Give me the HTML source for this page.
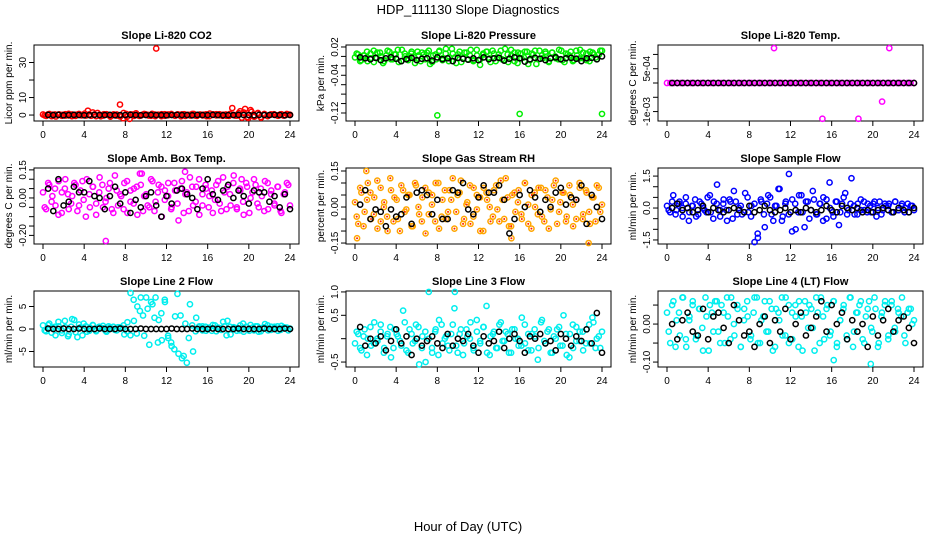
<!DOCTYPE html>
<html><head><meta charset="utf-8"><style>
body{margin:0;background:#fff}
svg{display:block;font-family:"Liberation Sans",sans-serif}
</style></head><body>
<svg id="chart" width="936" height="540" viewBox="0 0 936 540" xmlns="http://www.w3.org/2000/svg">
<rect width="936" height="540" fill="#fff"/>
<text x="468" y="14" font-size="13" text-anchor="middle">HDP_111130  Slope Diagnostics</text>
<text x="468" y="531" font-size="13" text-anchor="middle">Hour of Day (UTC)</text>
</svg>
<script>
const titles=["Slope Li-820 CO2","Slope Li-820 Pressure","Slope Li-820 Temp.","Slope Amb. Box Temp.","Slope Gas Stream RH","Slope Sample Flow","Slope Line 2 Flow","Slope Line 3 Flow","Slope Line 4 (LT) Flow"];
const yTitles=["Licor ppm per min.","kPa per min.","degrees C per min.","degrees C per min.","percent per min.","ml/min per min.","ml/min per min.","ml/min per min.","ml/min per min."];
const xTicks=[0,4,8,12,16,20,24];
const yDomains=[[-3.4,40],[-0.137,0.0242],[-0.00133,0.00133],[-0.246,0.16],[-0.154,0.1625],[-1.69,1.88],[-8.44,8.44],[-0.606,1.02],[-0.113,0.087]];
const yTicks=[[0,10,20,30],[0.02,0,-0.02,-0.04,-0.06,-0.08,-0.10,-0.12],[0.001,0.0005,0,-0.0005,-0.001],[0.15,0.10,0.05,0,-0.05,-0.10,-0.15,-0.20],[0.15,0.10,0.05,0,-0.05,-0.10,-0.15],[1.5,1.0,0.5,0,-0.5,-1.0,-1.5],[5,0,-5],[1.0,0.5,0,-0.5],[0.05,0,-0.05,-0.10]];
const yTickLabels=[["0","10","","30"],["0.02","","","-0.04","","","","-0.12"],["","5e-04","","","-1e-03"],["0.15","","","0.00","","","","-0.20"],["0.15","","","0.00","","","-0.15"],["1.5","","","0.0","","","-1.5"],["5","0","-5"],["1.0","0.5","","-0.5"],["","0.00","","-0.10"]];
const colors=["#ff0000","#00ee00","#ff00ff","#ff00ff","#ffa500","#0000ff","#00eeee","#00eeee","#00eeee"];

const cloud1=[0.3,-0.5,0.6,0.2,-0.8,0.4,0.1,-0.3,0.7,-0.6,0.2,0.5,-0.2,0.8,2.5,-0.4,0.3,1.2,-0.7,0.5,0.2,-0.9,0.4,-0.3,6,-1.8,0.6,-2.2,0.3,1.0,-0.5,0.2,0.4,-0.3,0.7,-0.6,0.2,0.5,-0.4,0.3,0.6,-0.2,0.4,-0.7,0.5,0.1,-0.3,0.6,-0.5,0.3,0.2,-0.6,0.8,0.4,-0.2,0.5,-0.4,0.3,-0.5,4,-0.3,1.1,-1.5,3.5,-1.6,1.8,-0.8,1.2,-1.5,0.6,-0.4,0.3,0.5,-0.2,0.4,-0.3,0.6,0.2];
const cloud2=[-0.002,0.004,-0.008,0.002,-0.010,0.006,0.012,-0.004,0.008,-0.014,0.002,0.010,-0.006,0.004,-0.012,0.014,0.000,-0.008,0.006,-0.002,0.010,-0.010,0.004,0.008,-0.016,0.002,-0.006,0.012,-0.004,0.006,-0.010,0.016,-0.002,0.004,-0.012,0.008,-0.006,0.014,-0.008,0.002,-0.018,0.006,0.010,-0.004,0.012,-0.010,0.004,-0.006,0.016,-0.012,0.002,0.008,-0.014,0.006,-0.002,0.010,-0.008,0.004,-0.016,0.012,-0.004,0.006,-0.010,0.008,0.000,-0.006,0.012,-0.012,0.004,0.010,-0.008,0.002,0.014,-0.004,0.006,-0.010,0.008,-0.002,0.004,0.012];
const cloud3=[0,0,0,0,0,0,0,0,0,0,0,0,0,0,0,0,0,0,0,0,0,0,0,0,0,0,0,0,0,0,0,0,0,0,0,0,0,0,0,0,0,0,0,0,0,0,0,0,0,0,0,0,0,0,0,0,0,0,0,0,0,0,0,0,0,0,0,0,0,0,0,0,0,0];
const cloud4=[0.03,-0.06,0.07,0.01,-0.04,0.09,-0.08,0.05,0.02,-0.03,0.08,-0.07,0.04,-0.01,0.10,-0.05,0.06,-0.09,0.03,0.07,-0.02,0.05,-0.06,0.12,-0.04,0.01,0.08,-0.08,0.04,-0.03,0.06,0.13,-0.07,0.02,-0.05,0.09,-0.02,0.07,-0.10,0.04,0.01,-0.06,0.08,-0.03,0.05,-0.08,0.03,0.11,-0.04,0.06,-0.09,0.02,0.07,-0.05,0.04,-0.01,0.09,-0.07,0.03,0.06,-0.04,0.12,-0.06,0.05,-0.02,0.08,-0.08,0.03,0.07,-0.05,0.01,0.09,-0.06,0.04,-0.03,0.06,-0.07,0.02,0.08,-0.04];
const cloud5=[0.02,-0.07,0.06,-0.02,0.10,-0.05,0.04,-0.09,0.08,0.00,-0.04,0.12,-0.06,0.03,-0.10,0.07,-0.01,0.05,-0.08,0.09,-0.03,0.04,-0.11,0.06,0.01,-0.06,0.10,-0.04,0.07,-0.02,0.03,-0.09,0.05,0.11,-0.05,0.02,-0.07,0.08,-0.01,0.04,-0.10,0.06,0.00,-0.04,0.09,-0.06,0.03,0.12,-0.08,0.05,-0.02,0.07,-0.05,0.10,0.01,-0.09,0.06,-0.03,0.08,-0.06,0.04,-0.01,0.09,-0.07,0.02,0.06,-0.04,0.05,-0.08,0.03,0.10,-0.05,0.07,-0.02,0.04,-0.06,0.08,0.01];
const cloud6=[0.1,-0.2,0.6,-0.1,0.3,-0.4,0.2,-0.6,0.1,0.4,-0.3,0.2,-0.1,0.5,-0.2,0.3,1.1,-0.4,0.2,-0.1,0.4,-0.5,0.3,0.0,-0.3,0.7,-0.2,0.1,-1.6,-1.2,0.4,-0.3,0.2,0.5,-0.6,0.1,0.9,-0.4,0.3,1.6,-1.1,0.2,-0.2,0.6,-0.9,0.3,-0.1,0.4,-0.3,0.2,0.5,-0.5,1.2,-0.2,0.3,-0.8,0.2,0.7,-0.1,1.4,-0.3,0.2,-0.1,0.3,-0.2,0.1,0.2,-0.4,0.3,-0.1,0.1,0.2,-0.2,0.3,-0.1,0.1,-0.2,0.2,0.1,-0.1];
const cloud7=[0.8,-0.5,1.2,0.3,-1.4,0.6,-0.3,1.8,-1.6,0.5,2.0,-1.8,0.4,1.2,-0.6,0.3,0.8,-0.3,0.5,0.2,-0.4,0.6,0.1,-0.2,0.4,0.3,-1.2,1.5,8,6.5,-1,4,3,7,-3.5,5.5,7,2,-2.5,6,-1.5,-3,-4.5,7.8,3,-6,-7.5,5.5,-5,2.5,0.6,-0.3,0.5,0.2,-0.4,0.8,0.3,-0.2,0.6,1.8,-1.2,0.4,0.2,-0.3,1.2,0.5,-0.4,0.3,0.6,-0.6,0.2,1.1,-0.3,0.5,0.2,0.6,-0.2,0.4,0.3,0.1];
const cloud8=[-0.1,0.1,-0.25,0.2,0.0,-0.15,0.35,-0.05,0.15,-0.3,0.05,0.25,-0.2,0.1,-0.05,0.6,-0.25,0.2,-0.1,0.3,-0.55,0.05,-0.5,1.0,-0.2,0.15,-0.35,0.3,0.0,-0.15,0.1,0.65,-0.3,0.2,-0.1,0.05,0.35,-0.25,0.15,-0.05,0.25,0.7,-0.35,0.1,-0.2,0.3,-0.05,0.15,-0.3,0.2,0.0,-0.15,0.45,-0.1,0.1,-0.25,0.2,-0.45,0.35,-0.05,0.15,-0.3,0.05,0.2,-0.15,0.5,-0.35,0.1,-0.2,0.25,-0.05,0.15,-0.1,0.3,0.45,-0.2,0.05,0.15];
const cloud9=[0.03,-0.05,0.06,0.01,-0.03,0.07,-0.06,0.02,0.05,-0.04,0.04,-0.01,0.07,-0.07,0.03,0.06,-0.02,0.05,-0.05,0.02,0.07,-0.03,0.04,-0.06,0.01,0.06,-0.04,0.03,0.07,-0.05,0.02,-0.02,0.06,-0.07,0.04,0.01,-0.03,0.07,-0.05,0.03,0.05,-0.06,0.02,0.06,-0.01,0.04,-0.07,0.03,0.07,-0.04,0.05,-0.02,0.06,-0.05,0.01,0.04,-0.03,0.07,-0.06,0.03,0.05,-0.04,0.02,0.06,-0.02,0.04,-0.05,0.03,0.06,-0.03,0.05,-0.01,0.04,0.02,-0.03,0.03,0.04,0.01];
const clouds=[cloud1,cloud2,cloud3,cloud4,cloud5,cloud6,cloud7,cloud8,cloud9];

// second interleaved set of colored samples (denser clouds)
const cloudB1=[-0.2,0.4,-0.6,0.3,0.1,-0.4,0.5,-0.2,0.3,-0.5,0.6,0.1,-0.3,0.4,1.5,-0.6,0.2,-0.3,0.5,-0.4,0.1,0.3,-0.8,1.2,-1.0,0.4,-0.5,0.2,-0.3,0.6,0.1,-0.4,0.3,0.2,-0.6,0.5,-0.1,0.3,-0.4,0.2,0.4,-0.5,0.1,0.6,-0.3,0.2,-0.2,0.4,-0.6,0.3,0.5,-0.1,0.2,-0.4,0.6,0.1,-0.3,2.2,1.5,-1.2,2.8,-0.9,0.8,-1.1,0.5,-0.6,0.3,0.2,-0.4,0.5,-0.2,0.3];
const cloudB2=[0.006,-0.010,0.002,0.010,-0.004,-0.012,0.008,0.000,-0.010,0.012,-0.006,0.004,0.014,-0.010,0.006,-0.004,0.010,-0.014,0.002,0.008,-0.006,0.012,-0.012,0.004,0.010,-0.008,0.016,-0.002,0.006,-0.014,0.010,-0.004,0.008,0.002,-0.010,0.014,-0.006,0.004,0.010,-0.012,0.006,-0.002,0.012,-0.008,0.004,0.014,-0.010,0.008,-0.004,0.010,-0.016,0.006,0.012,-0.006,0.002,0.010,-0.012,0.008,-0.004,0.014,-0.008,0.006,0.002,-0.010,0.012,-0.004,0.008,-0.008,0.010,0.004,-0.006,0.012];
const cloudB3=[];
const cloudB4=[-0.05,0.08,-0.02,0.05,-0.09,0.03,0.10,-0.06,0.01,0.07,-0.04,0.09,-0.10,0.02,0.06,-0.03,0.11,-0.05,0.00,0.08,-0.08,0.04,0.02,-0.06,0.09,-0.02,0.05,-0.09,0.07,0.01,-0.04,0.10,-0.07,0.03,0.06,-0.01,0.08,-0.05,0.04,-0.12,0.09,0.02,-0.07,0.06,-0.02,0.10,-0.04,0.05,0.01,-0.08,0.07,-0.03,0.11,-0.06,0.02,0.08,-0.05,0.04,-0.09,0.06,0.00,0.10,-0.03,0.05,-0.07,0.08,0.02,-0.04,0.06,-0.08,0.03,0.07];
const cloudB5=[-0.04,0.08,-0.08,0.03,0.06,-0.03,0.11,-0.06,0.02,-0.10,0.07,0.04,-0.05,0.09,-0.02,0.05,-0.08,0.10,0.00,-0.06,0.08,-0.03,0.05,0.10,-0.09,0.03,-0.05,0.07,0.12,-0.02,0.06,-0.07,0.01,0.09,-0.04,0.05,-0.10,0.08,0.03,-0.06,0.07,-0.01,0.11,-0.05,0.04,-0.08,0.06,0.02,-0.03,0.10,-0.07,0.05,0.00,0.08,-0.04,0.07,-0.09,0.03,0.11,-0.02,0.06,-0.06,0.09,0.01,-0.05,0.08,-0.03,0.06,-0.07,0.04,0.09,-0.02];
const cloudB6=[-0.1,0.3,-0.3,0.2,0.0,0.5,-0.2,0.1,-0.4,0.3,0.0,-0.2,0.6,-0.5,0.2,-0.1,0.4,-0.6,0.3,0.8,-0.3,0.1,-0.2,0.5,-0.4,0.2,-1.4,0.3,-0.9,0.6,-0.3,0.1,0.9,-0.6,0.2,-0.3,0.4,-1.0,0.6,-0.2,0.3,-0.5,0.8,-0.3,0.2,-0.6,0.4,0.0,-0.4,0.3,-0.2,0.5,-0.3,0.2,0.1,-0.3,0.4,-0.1,0.2,-0.2,0.3,0.0,-0.3,0.2,0.1,-0.2,0.3,-0.1,0.2,0.0,-0.2,0.1];
const cloudB7=[-0.3,0.9,-0.8,0.5,1.6,-0.9,0.4,-1.2,2.2,-0.7,1.0,-1.4,0.6,-0.4,0.9,-0.5,0.4,0.7,-0.6,0.3,0.5,-0.3,0.4,0.8,-0.5,-1.4,1.8,5,7,-1.5,4.5,6,2.5,-3,3.5,6.5,-2,-3.8,2.8,-5.5,-6.5,1.2,-2,0.8,-0.5,0.4,0.6,-0.4,0.3,0.9,-0.5,0.2,1.6,-1.4,0.5,0.3,-0.4,0.8,-0.6,0.4,0.9,-0.3,0.6,-0.5,0.4,0.8,-0.2,0.5,-0.4,0.7,0.3,-0.3];
const cloudB8=[0.15,-0.2,0.05,-0.35,0.25,-0.1,0.0,0.3,-0.2,0.1,-0.4,0.2,0.05,-0.15,0.35,-0.3,0.1,-0.05,0.25,-0.2,0.15,0.0,-0.3,0.2,0.4,-0.1,0.05,-0.25,0.3,-0.15,0.1,-0.35,0.2,0.0,-0.2,0.4,-0.1,0.25,-0.3,0.05,0.15,-0.2,0.35,-0.05,0.1,-0.3,0.2,0.0,-0.15,0.3,-0.25,0.1,0.05,-0.2,0.4,-0.1,0.2,-0.3,0.0,0.25,-0.15,0.1,-0.4,0.3,-0.05,0.15,-0.25,0.2,-0.1,0.35,0.0,-0.2];
const cloudB9=[-0.02,0.05,-0.06,0.03,0.07,-0.04,0.01,0.06,-0.03,0.04,-0.07,0.02,0.05,-0.02,0.06,-0.05,0.03,0.07,-0.04,0.00,0.05,-0.06,0.04,0.02,-0.03,0.07,-0.05,0.01,0.06,-0.02,0.04,-0.06,0.03,0.07,-0.03,0.05,-0.04,0.02,0.06,-0.07,0.03,0.05,-0.01,0.07,-0.05,0.02,0.04,-0.03,0.06,-0.06,0.01,0.05,-0.04,0.07,-0.02,0.03,0.06,-0.05,0.04,-0.01,0.07,-0.06,0.02,0.05,-0.04,0.06,-0.02,0.03,0.07,-0.05,0.04,0.00];
const cloudsB=[cloudB1,cloudB2,cloudB3,cloudB4,cloudB5,cloudB6,cloudB7,cloudB8,cloudB9];

const black1=[0.1,0,0.1,-0.1,0,0.1,0,-0.1,0,0.1,0,0,0.1,-0.1,0,0,0.1,0,-0.1,0,0.1,0,0,-0.1,0,0.1,0,0,-0.1,0.1,0,0,0.1,0,-0.1,0,0,0.1,0,0,-0.1,0.1,0,0,0.1,0,-0.1,0];
const black2=[-0.002,-0.004,-0.006,-0.003,-0.008,-0.004,-0.002,-0.005,-0.010,-0.006,-0.003,-0.008,-0.005,-0.004,-0.009,-0.002,-0.006,-0.004,-0.010,-0.003,-0.005,-0.007,-0.004,-0.008,-0.002,-0.006,-0.004,-0.003,-0.009,-0.005,-0.002,-0.004,-0.011,-0.006,-0.003,-0.005,-0.008,-0.004,-0.002,-0.006,-0.004,-0.003,-0.005,-0.010,-0.004,-0.003,-0.006,0.000];
const black3=[0,0,0,0,0,0,0,0,0,0,0,0,0,0,0,0,0,0,0,0,0,0,0,0,0,0,0,0,0,0,0,0,0,0,0,0,0,0,0,0,0,0,0,0,0,0,0,0];
const black4=[0.05,-0.07,0.10,-0.04,-0.02,0.06,0.03,0.03,0.09,0.01,0.00,-0.06,0.01,0.06,-0.03,0.03,-0.08,-0.01,-0.05,0.01,0.03,-0.04,-0.10,0.01,-0.03,0.04,0.05,0.02,0.00,-0.06,0.05,0.10,0.02,-0.01,0.04,0.07,0.00,0.04,0.01,-0.03,0.04,0.03,0.03,-0.02,0.01,-0.05,0.02,-0.06];
const black5=[0.01,0.07,-0.05,-0.01,-0.02,-0.08,-0.01,-0.04,-0.03,0.04,-0.07,0.06,0.07,0.05,-0.03,0.03,-0.05,-0.05,0.07,0.06,0.10,-0.01,-0.03,0.04,0.09,0.06,0.06,0.09,0.03,-0.11,-0.05,0.05,0.00,0.07,0.04,-0.02,0.03,0.00,0.06,0.08,0.01,0.04,0.03,0.09,-0.07,0.05,0.00,-0.05];
const black6=[0.0,0.2,-0.1,0.0,-0.2,-0.1,0.1,-0.2,0.0,-0.1,-0.2,-0.1,0.0,-0.1,-0.2,0.1,-0.2,-0.1,0.1,-0.1,-0.2,-0.1,0.0,-0.2,-0.1,-0.2,0.0,-0.1,-0.2,-0.1,0.1,-0.1,-0.2,0.1,0.0,-0.1,0.0,-0.2,-0.1,-0.2,-0.1,0.0,-0.1,-0.2,0.0,-0.1,-0.2,0.0];
const black7=[0.1,0,0,0.1,0,0,0.1,0,0,0,0.1,0,0,0,0.1,0,0,0,0.1,0,0,0,0,0,0.1,0,0,0,0.1,0,0,0,0.1,0,0,0,0,0.1,0,0,0,0,0.1,0,0,0,0.1,0];
const black8=[0.25,-0.15,0.0,-0.1,0.05,-0.25,-0.05,0.2,-0.1,0.05,-0.35,0.0,-0.15,-0.05,0.05,-0.1,-0.2,0.1,-0.15,0.0,-0.05,0.1,-0.15,-0.3,0.05,-0.1,-0.05,0.15,-0.2,0.0,0.1,-0.05,-0.3,0.05,0.0,0.1,-0.1,-0.05,-0.25,0.1,0.0,-0.15,0.05,-0.05,0.2,-0.1,0.55,-0.3];
const black9=[0.00,-0.04,0.01,0.03,-0.02,-0.03,0.04,-0.04,0.02,0.03,-0.01,-0.05,0.05,0.01,-0.03,-0.02,-0.06,0.00,0.02,-0.05,0.01,-0.02,0.04,-0.04,0.00,0.03,-0.03,-0.01,0.02,0.06,-0.02,0.05,0.00,0.03,-0.04,0.01,-0.02,0.00,-0.06,0.02,-0.03,0.01,0.04,-0.02,0.01,0.02,-0.01,-0.05];
const blacks=[black1,black2,black3,black4,black5,black6,black7,black8,black9];

const outX=[[11],[8,16,24],[10.4,21.6,15.1,18.6,20.9],[6.1,13.8,9.6,19.3],[0.2,15.2,22.7,1.1],[],[],[9.7],[19.8,16.2]];
const outY=[[38],[-0.125,-0.122,-0.122],[0.00122,0.00122,-0.00125,-0.00125,-0.00065],[-0.23,0.14,0.13,0.1],[-0.13,-0.13,-0.15,0.15],[],[],[1.0],[-0.105,-0.095]];

const svg=document.getElementById('chart');
const NS='http://www.w3.org/2000/svg';
const lefts=[34,346,658], tops=[45,168,291], W=265, H=76;
function mk(tag,attrs,parent){const e=document.createElementNS(NS,tag);for(const k in attrs)e.setAttribute(k,attrs[k]);(parent||svg).appendChild(e);return e;}

for(let p=0;p<9;p++){
  const L=lefts[p%3], T=tops[Math.floor(p/3)];
  const g=mk('g',{});
  
  
  const [y0,y1]=yDomains[p];
  const xs=v=>L+9+v*(W-18)/24;
  const ys=v=>T+H-(v-y0)/(y1-y0)*H;
  const box=mk('rect',{x:L,y:T,width:W,height:H,fill:'none',stroke:'#000','stroke-width':1},g);
  
  
  const tt=mk('text',{x:L+W/2,y:T-6,'font-size':11,'font-weight':'bold','text-anchor':'middle'},g);
  tt.textContent=titles[p];
  
  
  const xa=mk('g',{},g);
  
  
  mk('line',{x1:xs(0),x2:xs(24),y1:T+H,y2:T+H,stroke:'#000'},xa);
  xTicks.forEach(v=>{
    mk('line',{x1:xs(v),x2:xs(v),y1:T+H,y2:T+H+5,stroke:'#000'},xa);
    const t=mk('text',{x:xs(v),y:T+H+17,'font-size':10,'text-anchor':'middle'},xa);
    t.textContent=v;
    
    
  });
  const ya=mk('g',{},g);
  
  
  const tk=yTicks[p];
  mk('line',{x1:L,x2:L,y1:ys(Math.max(...tk)),y2:ys(Math.min(...tk)),stroke:'#000'},ya);
  tk.forEach((v,i)=>{
    mk('line',{x1:L-5,x2:L,y1:ys(v),y2:ys(v),stroke:'#000'},ya);
    if(yTickLabels[p][i]){
      const t=mk('text',{x:L-8,y:ys(v),'font-size':10,'text-anchor':'middle',transform:`rotate(-90 ${L-8} ${ys(v)})`},ya);
      t.textContent=yTickLabels[p][i];
      
      
    }
  });
  const yt=mk('text',{x:L-22,y:T+H/2,'font-size':10,'text-anchor':'middle',transform:`rotate(-90 ${L-22} ${T+H/2})`},g);
  yt.textContent=yTitles[p];
  
  
  const col=colors[p];
  const drawPt=(x,y,color,name)=>{
    const pt=mk('circle',{cx:xs(x),cy:ys(y),r:2.6,fill:'none',stroke:color,'stroke-width':1.5},g);
    
    
    if(p===4&&color!=='#000'){mk('circle',{cx:xs(x),cy:ys(y),r:1,fill:'#ff2000'},g);}
  };
  const c=clouds[p];
  c.forEach((v,i)=>drawPt(i*24/(c.length-1),v,col,'cloud-point'));
  const cb=cloudsB[p];
  cb.forEach((v,i)=>drawPt((i+0.5)*24/cb.length,v,col,'cloud-point'));
  outX[p].forEach((x,i)=>drawPt(x,outY[p][i],col,'outlier-point'));
  blacks[p].forEach((v,i)=>drawPt((i+1)*0.5,v,'#000','hourly-point'));
}
</script>
</body></html>
